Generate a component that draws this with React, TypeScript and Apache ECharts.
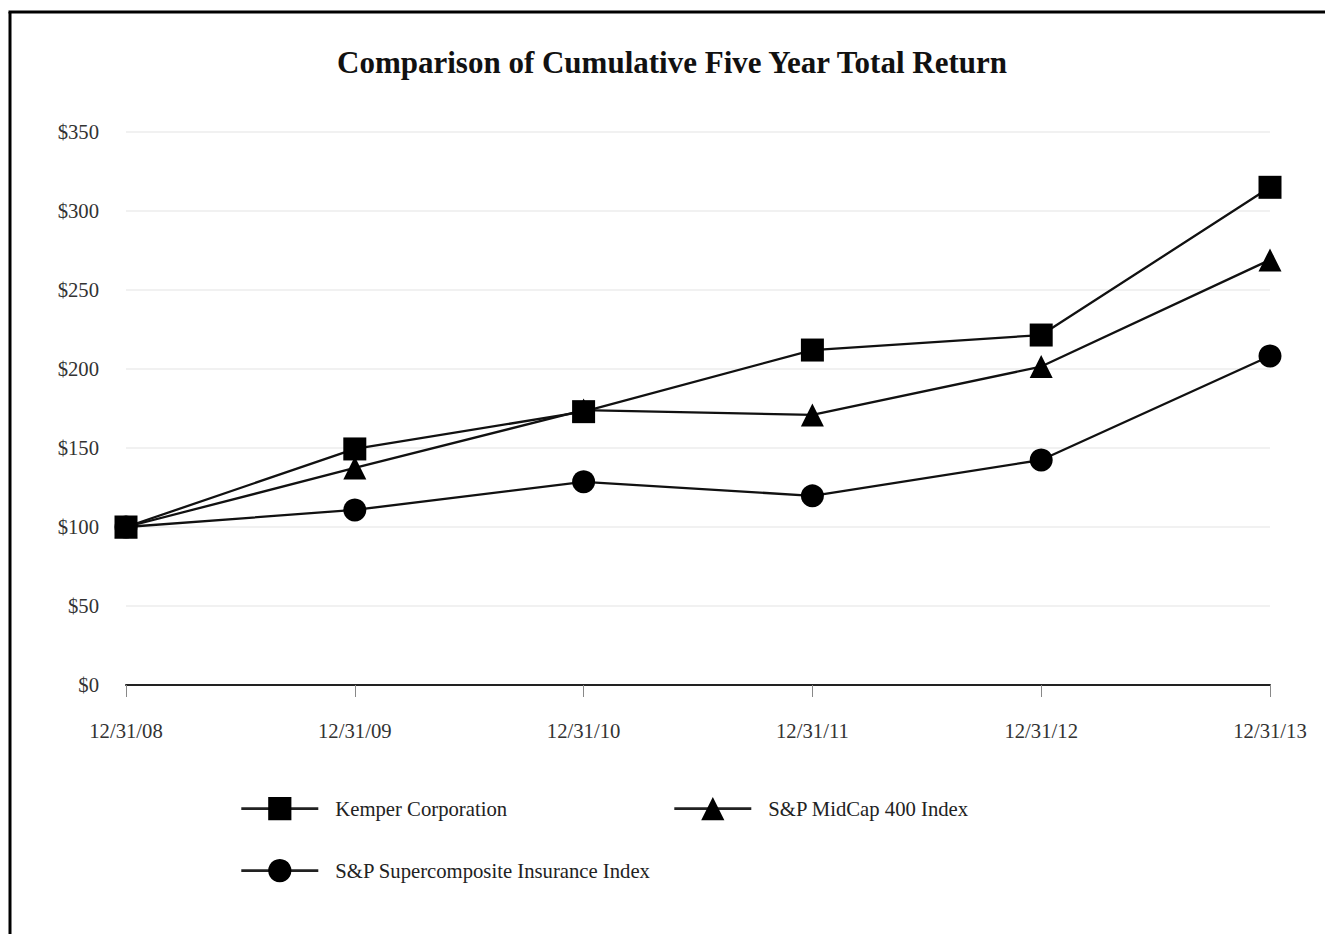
import React, { useEffect, useRef } from "react";
import * as echarts from "echarts";

const categories = ["12/31/08", "12/31/09", "12/31/10", "12/31/11", "12/31/12", "12/31/13"];
const kemper = [100, 149.4, 173, 212, 221.5, 315];
const midcap = [100, 137.38, 173.98, 170.96, 201.53, 269.04];
const insurance = [100, 110.8, 128.6, 119.7, 142.4, 208.2];
const seriesNames = ["Kemper Corporation", "S&P MidCap 400 Index", "S&P Supercomposite Insurance Index"];

const FONT = "'Liberation Serif', 'Times New Roman', serif";

export default function App() {
  const ref = useRef<HTMLDivElement>(null);
  useEffect(() => {
    if (!ref.current) return;
    const chart = echarts.init(ref.current, undefined, { renderer: "svg" });
    const lineStyle = { color: "#111", width: 2.3 };
    const legendBase = {
      orient: "horizontal",
      itemWidth: 77,
      itemHeight: 29,
      padding: 0,
      lineStyle: { width: 2.6, color: "#222" },
      textStyle: { fontFamily: FONT, fontSize: 20.7, color: "#222", padding: [0, 0, 0, 12] },
    };
    chart.setOption({
      animation: false,
      backgroundColor: "#fff",
      title: {
        text: "Comparison of Cumulative Five Year Total Return",
        left: 672,
        top: 47,
        textAlign: "center",
        padding: 0,
        textStyle: { fontFamily: FONT, fontSize: 31, fontWeight: "bold", color: "#111" },
      },
      legend: [
        { ...legendBase, data: [seriesNames[0]], left: 240, top: 797 },
        { ...legendBase, data: [seriesNames[1]], left: 673, top: 797 },
        { ...legendBase, data: [seriesNames[2]], left: 240, top: 859 },
      ],
      grid: { left: 126, right: 55, top: 132, bottom: 249, containLabel: false },
      xAxis: {
        type: "category",
        data: categories,
        boundaryGap: false,
        axisLine: { show: true, lineStyle: { color: "#222", width: 2 } },
        axisTick: { show: true, length: 12, alignWithLabel: true, lineStyle: { color: "#888", width: 1 } },
        axisLabel: { margin: 35, fontFamily: FONT, fontSize: 20.7, color: "#333" },
        splitLine: { show: false },
      },
      yAxis: {
        type: "value",
        min: 0,
        max: 350,
        interval: 50,
        axisLine: { show: false },
        axisTick: { show: false },
        axisLabel: {
          margin: 27,
          fontFamily: FONT,
          fontSize: 20.7,
          color: "#333",
          formatter: (v: number) => "$" + v,
        },
        splitLine: { show: true, lineStyle: { color: "#ececec", width: 1.5 } },
      },
      series: [
        {
          name: seriesNames[2],
          type: "line",
          data: insurance,
          symbol: "circle",
          symbolSize: 23,
          lineStyle,
          itemStyle: { color: "#000" },
        },
        {
          name: seriesNames[1],
          type: "line",
          data: midcap,
          symbol: "triangle",
          symbolSize: 23,
          lineStyle,
          itemStyle: { color: "#000" },
        },
        {
          name: seriesNames[0],
          type: "line",
          data: kemper,
          symbol: "rect",
          symbolSize: 23,
          lineStyle,
          itemStyle: { color: "#000" },
        },
      ],
      graphic: [
        { type: "line", shape: { x1: 10, y1: 12, x2: 10, y2: 934 }, style: { stroke: "#000", lineWidth: 3 } },
        { type: "line", shape: { x1: 8.5, y1: 12, x2: 1325, y2: 12 }, style: { stroke: "#000", lineWidth: 3 } },
      ],
    });
    return () => chart.dispose();
  }, []);
  return (
    <div
      ref={ref}
      style={{ position: "fixed", left: 0, top: 0, width: 1325, height: 934, background: "#fff" }}
    />
  );
}
